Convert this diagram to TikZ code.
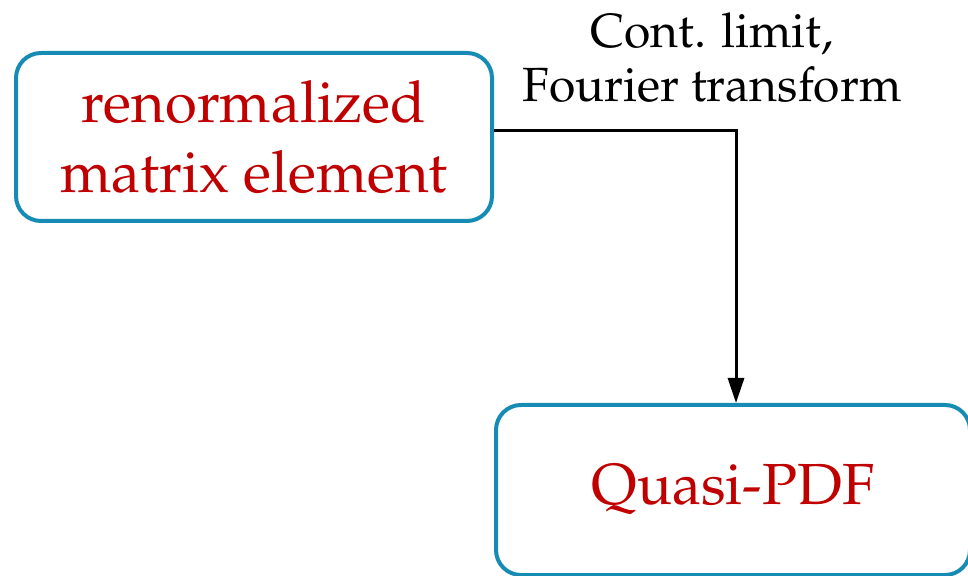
\documentclass[tikz,border=0pt]{standalone}
\usepackage[T1]{fontenc}
\usepackage{mathpazo}
\usetikzlibrary{arrows.meta}
\definecolor{boxblue}{RGB}{22,140,180}
\definecolor{textred}{RGB}{192,0,0}
\begin{document}
\begin{tikzpicture}[x=1pt,y=1pt,
  stage/.style={draw=boxblue, line width=4pt, rounded corners=25pt, text=textred,
    align=center, font=\fontsize{58}{70}\selectfont, inner sep=0pt},
  flow/.style={line width=3pt, -{Triangle[length=25pt,width=16pt]}},
  caption/.style={align=center, font=\fontsize{48}{54}\selectfont, inner sep=0pt}]
\useasboundingbox (0,0) rectangle (968,575);
% the two stages
\node[stage, minimum width=476pt, minimum height=168pt] (elem) at (254,438) {renormalized\\matrix element};
\node[stage, minimum width=474pt, minimum height=170pt] (qpdf) at (733,85) {Quasi-PDF};
% connector with its label
\draw[flow] ([yshift=6pt]elem.east) -| ([xshift=3pt]qpdf.north);
\node[caption] (step) at (712,517.5) {Cont. limit,\\Fourier transform};
\end{tikzpicture}
\end{document}
